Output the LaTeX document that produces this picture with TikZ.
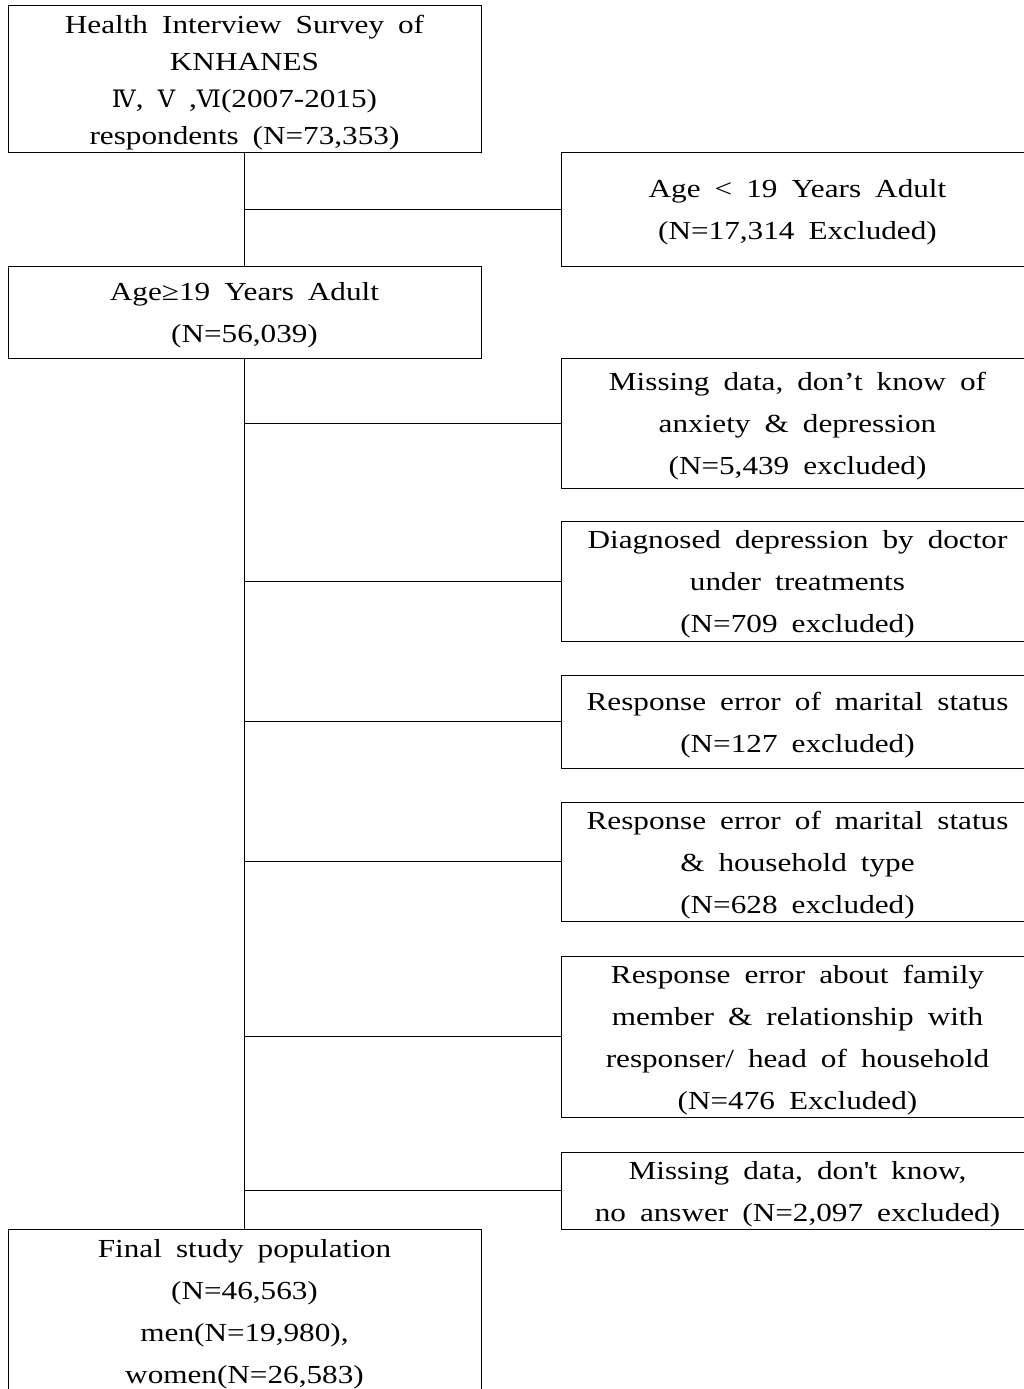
\documentclass[tikz,border=0pt]{standalone}
\usepackage{fontspec}
\setmainfont{Liberation Serif}[FakeStretch=1.2, WordSpace=1.8]
\newfontfamily\romanfont{DejaVu Serif}
\newcommand\rnum[1]{{\romanfont\fontsize{24}{24}\selectfont #1}}
\begin{document}
\begin{tikzpicture}[x=1pt,y=-1pt,
  box/.style={draw=black, line width=1pt, inner sep=0pt, minimum width=473pt},
  txt/.style={align=center, inner sep=0pt, yshift=-3.5pt, font=\fontsize{26}{42}\selectfont},
  link/.style={draw=black, line width=1pt}]
\useasboundingbox (0,0) rectangle (1024,1389);
\clip (0,0) rectangle (1024,1389);
\node[box, minimum height=146pt] (b1) at (244.5,79) {};
\node[txt, font=\fontsize{26}{37}\selectfont] (t1) at (b1.center)
  {Health Interview Survey of\\KNHANES\\\rnum{Ⅳ}, \rnum{Ⅴ} ,\rnum{Ⅵ}(2007-2015)\\respondents (N=73,353)};
\node[box, minimum height=114pt] (b2) at (797.5,209) {};
\node[txt] (t2) at (b2.center) {Age < 19 Years Adult\\(N=17,314 Excluded)};
\node[box, minimum height=92pt] (b3) at (244.5,312) {};
\node[txt] (t3) at (b3.center) {Age≥19 Years Adult\\(N=56,039)};
\node[box, minimum height=130pt] (b4) at (797.5,423) {};
\node[txt] (t4) at (b4.center) {Missing data, don’t know of\\anxiety \& depression\\(N=5,439 excluded)};
\node[box, minimum height=120pt] (b5) at (797.5,581) {};
\node[txt] (t5) at (b5.center) {Diagnosed depression by doctor\\under treatments\\(N=709 excluded)};
\node[box, minimum height=93pt] (b6) at (797.5,721.5) {};
\node[txt] (t6) at (b6.center) {Response error of marital status\\(N=127 excluded)};
\node[box, minimum height=119pt] (b7) at (797.5,861.5) {};
\node[txt] (t7) at (b7.center) {Response error of marital status\\\& household type\\(N=628 excluded)};
\node[box, minimum height=161pt] (b8) at (797.5,1036.5) {};
\node[txt] (t8) at (b8.center) {Response error about family\\member \& relationship with\\responser/ head of household\\(N=476 Excluded)};
\node[box, minimum height=77pt] (b9) at (797.5,1190.5) {};
\node[txt] (t9) at (b9.center) {Missing data, don\textquotesingle t know,\\no answer (N=2,097 excluded)};
\node[box, minimum height=163pt] (bf) at (244.5,1310.5) {};
\node[txt] (tf) at (bf.center) {Final study population\\(N=46,563)\\men(N=19,980),\\women(N=26,583)};
\draw[link] (b1.south) -- (b3.north);
\draw[link] (b3.south) -- (bf.north);
\foreach \n in {b2,b4,b5,b6,b7,b8,b9}
  \draw[link] (\n.west -| b1.south) -- (\n.west);
\end{tikzpicture}
\end{document}
